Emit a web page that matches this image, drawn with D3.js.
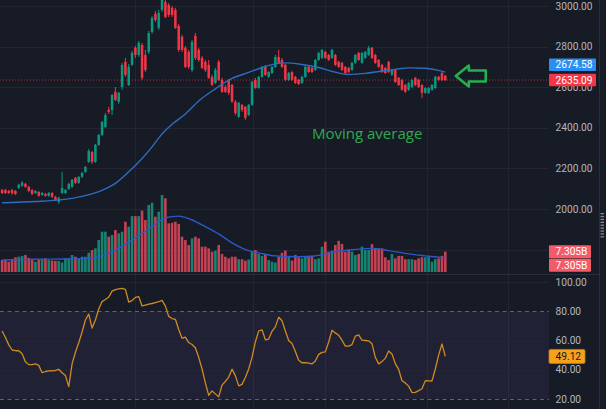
<!DOCTYPE html>
<html><head><meta charset="utf-8">
<script src="https://cdn.jsdelivr.net/npm/d3@7"></script>
<style>html,body{margin:0;padding:0;background:#171b26;overflow:hidden}svg{display:block}</style>
</head><body><svg id="c" width="606" height="409"></svg>
<script>
// ---------- data ----------
const opens=[2094,2094,2089,2094,2089,2104,2114,2124,2109,2094,
2079,2084,2069,2074,2065,2079,2060,2035,2079,2079,
2099,2109,2153,2129,2158,2183,2232,2281,2232,2316,
2365,2404,2488,2488,2577,2528,2601,2725,2611,2710,
2794,2759,2808,2759,2774,2872,2961,2892,2981,3020,
3005,2991,2981,2902,2848,2794,2774,2685,2853,2784,
2744,2725,2710,2651,2621,2725,2636,2601,2636,2611,
2528,2454,2513,2503,2463,2513,2636,2596,2651,2700,
2651,2670,2700,2749,2734,2710,2636,2675,2651,2636,
2621,2651,2700,2695,2685,2734,2744,2774,2759,2744,
2759,2725,2720,2700,2695,2685,2720,2769,2720,2744,
2759,2794,2759,2734,2710,2695,2725,2661,2685,2646,
2636,2611,2587,2601,2646,2636,2611,2572,2572,2587,
2596,2651,2670,2656];
const closes=[2079,2079,2079,2079,2074,2119,2129,2109,2089,2074,
2089,2065,2079,2065,2079,2060,2045,2055,2104,2094,
2124,2143,2129,2158,2178,2207,2286,2232,2316,2365,
2429,2463,2478,2562,2537,2572,2710,2661,2700,2769,
2759,2818,2646,2685,2867,2941,2931,2966,3030,2946,
2956,2956,2892,2784,2784,2700,2700,2823,2744,2734,
2695,2685,2646,2611,2685,2636,2577,2577,2572,2528,
2473,2523,2488,2449,2513,2626,2596,2651,2700,2661,
2675,2700,2749,2720,2700,2636,2670,2636,2621,2616,
2651,2700,2675,2675,2734,2769,2784,2744,2734,2784,
2710,2700,2685,2670,2675,2720,2759,2734,2769,2774,
2794,2744,2720,2700,2675,2670,2675,2685,2626,2611,
2587,2577,2621,2636,2611,2601,2572,2596,2596,2611,
2651,2636,2636,2635.09];
const highs=[2099,2099,2094,2099,2094,2124,2138,2129,2114,2099,
2094,2089,2084,2079,2084,2084,2065,2060,2183,2099,
2129,2148,2158,2163,2183,2212,2296,2286,2321,2370,
2434,2473,2503,2567,2601,2577,2720,2744,2715,2779,
2803,2828,2818,2784,2877,2951,2976,2981,3050,3030,
3015,3000,2991,2912,2858,2803,2784,2833,2867,2794,
2754,2734,2734,2661,2695,2734,2646,2611,2641,2616,
2537,2528,2518,2508,2518,2631,2646,2656,2705,2710,
2680,2705,2759,2784,2744,2715,2675,2680,2656,2641,
2656,2705,2705,2700,2739,2774,2789,2779,2764,2789,
2764,2730,2725,2705,2700,2725,2764,2774,2774,2779,
2803,2798,2764,2739,2715,2700,2730,2690,2690,2651,
2641,2616,2626,2641,2651,2641,2616,2601,2601,2616,
2656,2656,2675,2661];
const lows=[2074,2074,2074,2069,2069,2099,2109,2104,2084,2069,
2074,2060,2065,2060,2060,2055,2040,2025,2074,2074,
2094,2104,2124,2124,2153,2178,2227,2222,2227,2311,
2360,2399,2468,2463,2532,2518,2587,2651,2606,2705,
2744,2749,2636,2675,2764,2863,2922,2882,2971,2941,
2946,2946,2887,2774,2774,2695,2690,2675,2734,2725,
2690,2675,2641,2606,2616,2631,2572,2572,2562,2523,
2463,2449,2478,2439,2459,2508,2592,2592,2646,2656,
2646,2665,2695,2715,2695,2631,2631,2631,2616,2611,
2616,2646,2670,2670,2680,2730,2739,2739,2730,2739,
2705,2695,2680,2665,2670,2680,2715,2730,2715,2739,
2754,2739,2715,2695,2670,2665,2670,2656,2621,2606,
2582,2572,2582,2596,2606,2596,2547,2567,2567,2582,
2592,2631,2631,2631];
// volume in billions
const volumes=[4.3,4.3,3.7,4.3,5.3,5.5,5.8,6.1,5.1,4.3,
3.7,4.3,4.6,4.9,4.3,4.1,4.0,4.0,3.4,4.9,
4.9,6.1,5.5,4.9,5.5,5.5,6.9,7.9,8.5,11.5,
14.5,14.5,12.7,13.3,15.1,13.9,14.5,18.1,16.3,20.1,
20.1,20.1,22.1,18.7,24.1,24.9,19.9,21.7,27.7,26.5,
17.5,17.7,18.1,17.3,12.7,11.5,9.7,12.1,12.7,12.1,
9.1,9.1,8.5,7.3,7.7,9.7,6.5,5.5,4.9,5.5,
5.5,4.6,4.6,4.1,4.5,7.3,7.9,6.5,5.8,6.5,
4.3,3.7,3.4,5.5,6.9,7.7,5.5,4.1,6.1,5.3,
4.9,5.5,5.5,5.8,4.6,4.9,9.1,10.9,7.3,7.7,
9.7,11.2,10.1,7.3,7.9,7.3,6.1,6.5,9.1,7.9,
7.9,10.0,8.5,8.5,8.5,5.3,4.3,6.5,4.9,5.8,
5.8,4.6,4.6,4.6,4.3,4.9,5.3,5.3,5.5,3.7,
4.6,4.9,5.8,7.305];
const maBars=[0,10,18,24,30,34,38,42,45,48,51,55,59,64,69,74,78,82,85,90,95,99,104,109,114,118,122,127,131,133];
const maValues=[2031,2037,2046,2062,2092,2126,2183,2249,2306,2370,2417,2468,2532,2592,2643,2673,2697,2715,2720,2712,2697,2678,2663,2668,2680,2688,2695,2693,2683,2674.58];
const volMaBars=[0,10,19,26,32,39,45,49,53,57,61,65,69,74,77,82,89,94,98,104,111,116,122,127,131,133];
const volMaValues=[4.3,4.6,4.7,4.9,6.7,11.5,16.3,19.5,20.1,18.7,16.3,13.7,10.5,7.7,6.9,5.8,5.5,5.8,6.9,7.9,8.5,7.7,6.5,5.8,5.3,5.2];
const rsi=[66.5,62,57,53.5,53,53,51,45.5,43.5,43.5,
44,43,38,38.8,39.2,39.3,39.5,40.3,38,36,
28.5,44,52,58.5,65.8,74,78,68.5,74,81.5,
86.6,88,89.7,93.8,94.8,95.3,95.7,95,86.3,87.3,
89.5,90,83.6,84.2,84.8,85.3,85.9,86.5,87.4,83.5,
76.5,75,74.5,67.5,61.5,62.3,58.6,57.3,55,48.5,
40.5,31,22.5,25.5,23.5,21.5,29.5,32,35,40.4,
36,29,30,34.7,40.5,48.5,59,66.5,67.3,60.5,
61,66.3,69.3,76,73.5,66.5,60,58,52.5,46.5,
44.8,44.8,44.5,44,46,50.5,51.9,52.2,59,67,
65.2,63.6,60.2,56.2,56.2,57.2,63,63.8,60.2,60,
59.8,57.8,48.5,44,45.6,47.8,52.8,50.8,44.2,40.3,
32.5,31,28.8,24.4,24.5,25.7,27,32.5,32.4,32.3,
40.5,50,57.6,49.12];
const priceTicks=[3000,2800,2600,2400,2200,2000];
const priceGrid=[3000,2800,2600,2400,2200,2000,1800];
const rsiTicks=[100,80,60,40,20];
const rsiSolid=[100,60,40];
const rsiDashed=[80,20];
const timeGridBars=[40,75.3,97,127.6,151.9];
const annotationText="Moving average";

// ---------- layout ----------
const W=606,H=409,plotR=549;
const mainTop=0,mainBot=273,rsiTop=276,rsiBot=409;
const UP="#089981",DOWN="#f23645";
const svg=d3.select("#c");
svg.append("rect").attr("width",W).attr("height",H).attr("fill","#171b26");

const n=closes.length;
const x=d3.scaleLinear().domain([0,n-1]).range([2.1,445.3]);
const y=d3.scaleLinear().domain([2000,3000]).range([209,6]);
const yv=d3.scaleLinear().domain([0,27.7]).range([272,195]);
const yr=d3.scaleLinear().domain([20,100]).range([399,282]);

const defs=svg.append("defs");
defs.append("clipPath").attr("id","cm").append("rect").attr("x",0).attr("y",mainTop).attr("width",plotR).attr("height",mainBot-mainTop);
defs.append("clipPath").attr("id","cr").append("rect").attr("x",0).attr("y",rsiTop).attr("width",plotR).attr("height",rsiBot-rsiTop);

const gridC="#232632";
// time grid
svg.append("g").selectAll("line").data(timeGridBars).join("line")
 .attr("x1",d=>Math.round(x(d))+0.5).attr("x2",d=>Math.round(x(d))+0.5)
 .attr("y1",0).attr("y2",H).attr("stroke",gridC);

const gm=svg.append("g").attr("clip-path","url(#cm)");
gm.selectAll("line.pg").data(priceGrid).join("line").attr("class","pg")
 .attr("x1",0).attr("x2",plotR).attr("y1",d=>Math.round(y(d))+0.5).attr("y2",d=>Math.round(y(d))+0.5)
 .attr("stroke",gridC);

// volume bars
const idx=d3.range(n);
const isUp=i=>closes[i]>=opens[i];
gm.append("g").selectAll("rect").data(idx).join("rect")
 .attr("x",i=>x(i)-1.3).attr("width",2.6)
 .attr("y",i=>yv(volumes[i])).attr("height",i=>yv(0)-yv(volumes[i]))
 .attr("fill",i=>isUp(i)?"#14917c":"#d9465a").attr("opacity",0.9);
// volume MA
gm.append("path").datum(volMaBars.map((b,k)=>[b,volMaValues[k]]))
 .attr("d",d3.line().x(d=>x(d[0])).y(d=>yv(d[1])).curve(d3.curveMonotoneX))
 .attr("fill","none").attr("stroke","#2a58c9").attr("stroke-width",1.4);

// candles
const cg=gm.append("g");
cg.selectAll("line").data(idx).join("line")
 .attr("x1",i=>x(i)).attr("x2",i=>x(i)).attr("y1",i=>y(highs[i])).attr("y2",i=>y(lows[i]))
 .attr("stroke",i=>isUp(i)?UP:DOWN).attr("stroke-width",1);
cg.selectAll("rect").data(idx).join("rect")
 .attr("x",i=>x(i)-1.25).attr("width",2.5)
 .attr("y",i=>Math.min(y(opens[i]),y(closes[i])))
 .attr("height",i=>Math.max(1,Math.abs(y(opens[i])-y(closes[i]))))
 .attr("fill",i=>isUp(i)?UP:DOWN);

// price MA
gm.append("path").datum(maBars.map((b,k)=>[b,maValues[k]]))
 .attr("d",d3.line().x(d=>x(d[0])).y(d=>y(d[1])).curve(d3.curveMonotoneX))
 .attr("fill","none").attr("stroke","#2d6cc2").attr("stroke-width",1.4);

// current price line
const last=closes[n-1], lastMA=maValues[maValues.length-1];
gm.append("line").attr("x1",0).attr("x2",plotR).attr("y1",y(last)).attr("y2",y(last))
 .attr("stroke",DOWN).attr("stroke-opacity",0.7).attr("stroke-dasharray","1,2");

// annotation
svg.append("text").attr("x",x(93)).attr("y",y(2345)).text(annotationText)
 .attr("font-family","Open Sans").attr("font-size",15).attr("fill","#31a84f");
const tx=x(n-1)+10.5, ty=y((last+lastMA)/2);
svg.append("path")
 .attr("d",`M${tx},${ty} L${tx+13},${ty-10.5} L${tx+13},${ty-5.5} L${tx+30},${ty-5.5} L${tx+30},${ty+5.5} L${tx+13},${ty+5.5} L${tx+13},${ty+10.5} Z`)
 .attr("fill","none").attr("stroke","#22b14c").attr("stroke-width",2.6).attr("stroke-linejoin","round");

// separators
svg.append("line").attr("x1",0).attr("x2",599).attr("y1",274.5).attr("y2",274.5).attr("stroke","#2a2e39");
svg.append("line").attr("x1",599.5).attr("x2",599.5).attr("y1",0).attr("y2",H).attr("stroke","#2a2e39");
svg.append("g").selectAll("rect").data(d3.range(9)).join("rect")
 .attr("x",600.5).attr("y",k=>213+k*2.9).attr("width",3.5).attr("height",1.3).attr("fill","#868993");

// RSI pane
const gr=svg.append("g").attr("clip-path","url(#cr)");
gr.append("rect").attr("x",0).attr("width",plotR).attr("y",yr(80)).attr("height",yr(20)-yr(80))
 .attr("fill","#7e57c2").attr("fill-opacity",0.1);
gr.selectAll("line.rs").data(rsiSolid).join("line").attr("class","rs")
 .attr("x1",0).attr("x2",plotR).attr("y1",d=>Math.round(yr(d))+0.5).attr("y2",d=>Math.round(yr(d))+0.5).attr("stroke",gridC);
gr.selectAll("line.rd").data(rsiDashed).join("line").attr("class","rd")
 .attr("x1",0).attr("x2",plotR).attr("y1",d=>Math.round(yr(d))+0.5).attr("y2",d=>Math.round(yr(d))+0.5)
 .attr("stroke","#60636f").attr("stroke-dasharray","4,3.5");
gr.append("path").datum(idx)
 .attr("d",d3.line().x(i=>x(i)).y(i=>yr(rsi[i])))
 .attr("fill","none").attr("stroke","#d08a1e").attr("stroke-width",1.3).attr("stroke-linejoin","round");

// axis labels
const font="Roboto", fs=10.2, axC="#b2b5be";
const ax=svg.append("g").attr("font-family",font).attr("font-size",fs);
ax.selectAll("text.p").data(priceTicks).join("text").attr("class","p")
 .attr("x",555.5).attr("y",d=>y(d)).attr("dy","0.36em").attr("fill",axC).text(d3.format(".2f"));
ax.selectAll("text.r").data(rsiTicks).join("text").attr("class","r")
 .attr("x",555.5).attr("y",d=>yr(d)).attr("dy","0.36em").attr("fill",axC).text(d3.format(".2f"));

function tag(cy,w,h,fill,txt,tc){
  const g=ax.append("g");
  g.append("rect").attr("x",549).attr("y",cy-h/2).attr("width",w).attr("height",h).attr("rx",1).attr("fill",fill);
  g.append("text").attr("x",555.5).attr("y",cy).attr("dy","0.36em").attr("fill",tc).text(txt);
}
const yRed=y(last);
let yBlue=y(lastMA);
if(yRed-yBlue<15.5) yBlue=yRed-15.3;
tag(yBlue,47,12.5,"#2a8ff0",d3.format(".2f")(lastMA),"#ffffff");
tag(yRed,47,12.5,DOWN,d3.format(".2f")(last),"#ffffff");
const vLast=volumes[n-1];
const yV=yv(vLast);
tag(yV,42,13,"#f45b69",vLast.toFixed(3)+"B","#ffffff");
tag(yV+13.6,42,13,"#f45b69",vLast.toFixed(3)+"B","#ffffff");
const rLast=rsi[n-1];
const rt=ax.append("g");
rt.append("rect").attr("x",549).attr("y",yr(rLast)-7).attr("width",36).attr("height",14).attr("rx",1.5)
 .attr("fill","#f7a21b").attr("stroke","#c77d10").attr("stroke-width",0.8);
rt.append("text").attr("x",555.5).attr("y",yr(rLast)).attr("dy","0.36em").attr("fill","#131722").text(d3.format(".2f")(rLast));
</script>
</body></html>
